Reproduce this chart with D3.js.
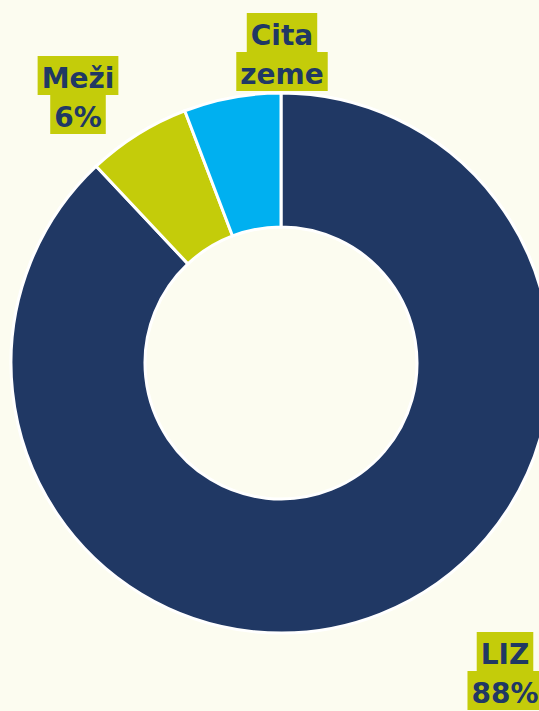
<!DOCTYPE html>
<html>
<head>
<meta charset="utf-8">
<script src="https://cdn.jsdelivr.net/npm/d3@7"></script>
<style>
  html, body { margin: 0; padding: 0; background: #fcfcf0; overflow: hidden; }
  svg { display: block; }
</style>
</head>
<body>
<div id="chart"></div>
<script>
// Data
const categories = ['LIZ', 'Meži', 'Cita zeme'];
const values = [88, 6.2, 5.8];
const labelLines = [['LIZ', '88%'], ['Meži', '6%'], ['Cita', 'zeme']];
const colors = ['#203864', '#c4cc0a', '#00b0f0'];

const width = 539;
const height = 711;
const cx = 281;
const cy = 363;
const outerR = 270;
const innerR = 136;

// label anchor (center x, baseline of first line)
const labelPos = [
  { x: 505, y: 664 },
  { x: 78, y: 88 },
  { x: 282, y: 45 }
];

const svg = d3.select('#chart').append('svg')
  .attr('width', width)
  .attr('height', height);

svg.append('rect')
  .attr('width', width)
  .attr('height', height)
  .attr('fill', '#fcfcf0');

const pie = d3.pie()
  .sort(null)
  .value(d => d);

const arc = d3.arc()
  .innerRadius(innerR)
  .outerRadius(outerR);

const g = svg.append('g')
  .attr('transform', `translate(${cx}, ${cy})`);

g.selectAll('.slice')
  .data(pie(values))
  .enter()
  .append('path')
  .attr('class', 'slice')
  .attr('d', arc)
  .attr('fill', (d, i) => colors[i])
  .attr('stroke', '#ffffff')
  .attr('stroke-width', 3);

// Labels with highlighted line boxes
const lineHeight = 39;
labelLines.forEach((lines, i) => {
  const lg = svg.append('g').attr('class', 'label');
  lines.forEach((txt, j) => {
    const t = lg.append('text')
      .attr('x', labelPos[i].x)
      .attr('y', labelPos[i].y + j * lineHeight)
      .attr('text-anchor', 'middle')
      .style('font-family', '"DejaVu Sans", sans-serif')
      .style('font-weight', 'bold')
      .style('font-size', '28px')
      .style('fill', '#203864')
      .text(txt);
    const bb = t.node().getBBox();
    lg.insert('rect', 'text')
      .attr('x', bb.x - 4)
      .attr('y', labelPos[i].y + j * lineHeight - 32)
      .attr('width', bb.width + 8)
      .attr('height', lineHeight)
      .attr('fill', '#c4cc0a');
  });
});
</script>
</body>
</html>
